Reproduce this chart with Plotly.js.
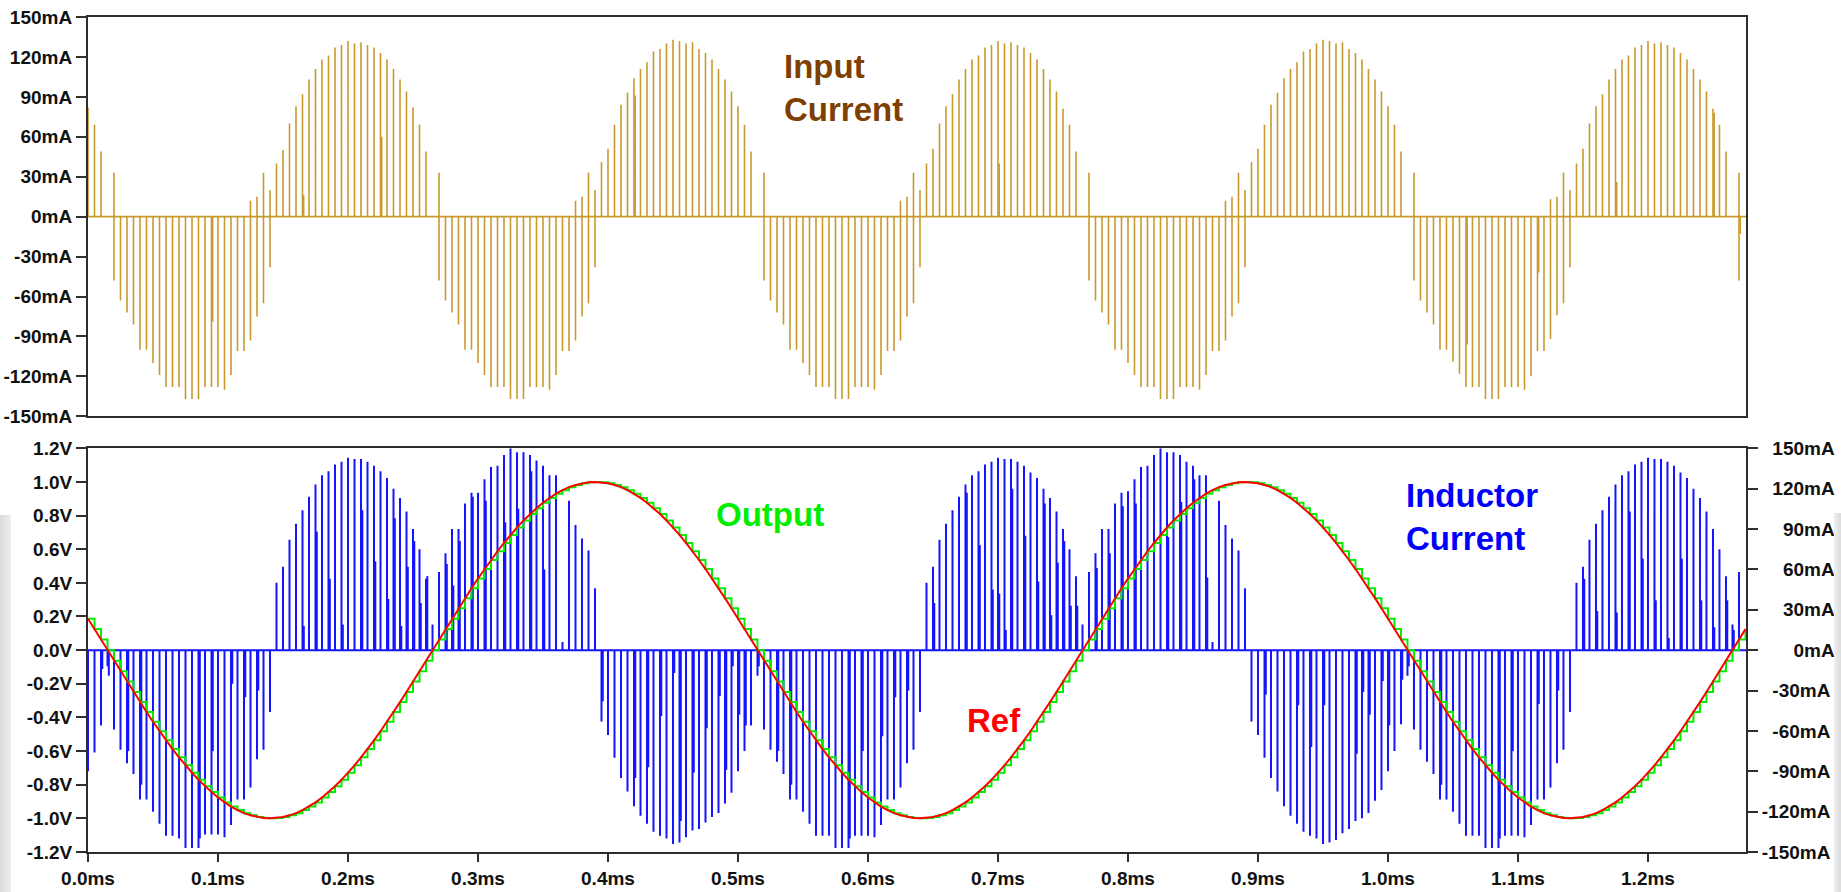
<!DOCTYPE html>
<html>
<head>
<meta charset="utf-8">
<script src="https://cdn.plot.ly/plotly-3.0.1.min.js"></script>
<style>
html,body{margin:0;padding:0;background:#fff;}
#chart{width:1841px;height:892px;}
.strip{position:absolute;pointer-events:none;}
</style>
</head>
<body>
<div id="chart"></div>
<div class="strip" style="left:0;top:515px;width:11px;height:377px;background:linear-gradient(to right,#dadada,#efefef);"></div>
<div class="strip" style="left:1834px;top:513px;width:7px;height:379px;background:linear-gradient(to right,#f0f0f0,#dcdcdc);"></div>
<script>
// ---------- axis ticks ----------
const timeTicks = [0, 0.1, 0.2, 0.3, 0.4, 0.5, 0.6, 0.7, 0.8, 0.9, 1.0, 1.1, 1.2];
const timeTickLabels = ['0.0ms','0.1ms','0.2ms','0.3ms','0.4ms','0.5ms','0.6ms','0.7ms','0.8ms','0.9ms','1.0ms','1.1ms','1.2ms'];
const currentTicks = [150, 120, 90, 60, 30, 0, -30, -60, -90, -120, -150];
const currentTickLabels = ['150mA','120mA','90mA','60mA','30mA','0mA','-30mA','-60mA','-90mA','-120mA','-150mA'];
const voltTicks = [1.2, 1.0, 0.8, 0.6, 0.4, 0.2, 0, -0.2, -0.4, -0.6, -0.8, -1.0, -1.2];
const voltTickLabels = ['1.2V','1.0V','0.8V','0.6V','0.4V','0.2V','0.0V','-0.2V','-0.4V','-0.6V','-0.8V','-1.0V','-1.2V'];
const timeEndMs = 1.2754;

// switching period / sample interval (ms)
const sampleStepMs = 0.005;

// ---------- Ref voltage (V), one sample per switching period ----------
const refV = [
0.187,0.125,0.063,0.000,
-0.063,-0.125,-0.187,-0.249,-0.309,-0.368,-0.426,-0.482,-0.536,-0.588,-0.637,-0.685,-0.729,-0.771,-0.809,-0.844,-0.876,-0.905,-0.930,-0.951,-0.969,-0.982,-0.992,-0.998,-1.000,
-0.998,-0.992,-0.982,-0.969,-0.951,-0.930,-0.905,-0.876,-0.844,-0.809,-0.771,-0.729,-0.685,-0.637,-0.588,-0.536,-0.482,-0.426,-0.368,-0.309,-0.249,-0.187,-0.125,-0.063,0.000,
0.063,0.125,0.187,0.249,0.309,0.368,0.426,0.482,0.536,0.588,0.637,0.685,0.729,0.771,0.809,0.844,0.876,0.905,0.930,0.951,0.969,0.982,0.992,0.998,1.000,
0.998,0.992,0.982,0.969,0.951,0.930,0.905,0.876,0.844,0.809,0.771,0.729,0.685,0.637,0.588,0.536,0.482,0.426,0.368,0.309,0.249,0.187,0.125,0.063,0.000,
-0.063,-0.125,-0.187,-0.249,-0.309,-0.368,-0.426,-0.482,-0.536,-0.588,-0.637,-0.685,-0.729,-0.771,-0.809,-0.844,-0.876,-0.905,-0.930,-0.951,-0.969,-0.982,-0.992,-0.998,-1.000,
-0.998,-0.992,-0.982,-0.969,-0.951,-0.930,-0.905,-0.876,-0.844,-0.809,-0.771,-0.729,-0.685,-0.637,-0.588,-0.536,-0.482,-0.426,-0.368,-0.309,-0.249,-0.187,-0.125,-0.063,0.000,
0.063,0.125,0.187,0.249,0.309,0.368,0.426,0.482,0.536,0.588,0.637,0.685,0.729,0.771,0.809,0.844,0.876,0.905,0.930,0.951,0.969,0.982,0.992,0.998,1.000,
0.998,0.992,0.982,0.969,0.951,0.930,0.905,0.876,0.844,0.809,0.771,0.729,0.685,0.637,0.588,0.536,0.482,0.426,0.368,0.309,0.249,0.187,0.125,0.063,0.000,
-0.063,-0.125,-0.187,-0.249,-0.309,-0.368,-0.426,-0.482,-0.536,-0.588,-0.637,-0.685,-0.729,-0.771,-0.809,-0.844,-0.876,-0.905,-0.930,-0.951,-0.969,-0.982,-0.992,-0.998,-1.000,
-0.998,-0.992,-0.982,-0.969,-0.951,-0.930,-0.905,-0.876,-0.844,-0.809,-0.771,-0.729,-0.685,-0.637,-0.588,-0.536,-0.482,-0.426,-0.368,-0.309,-0.249,-0.187,-0.125,-0.063,0.000,
0.063,0.125
];
// Output is the sampled-and-held version of the same samples
const outputV = refV;

// ---------- Input current (mA), per switching period ----------
const inputPos = [
82,69,49,0,33,
0,0,0,0,0,0,0,0,0,0,0,0,0,0,0,0,0,0,0,0,
12,15,33,20,40,50,70,83,92,103,111,118,121,127,129,132,130,131,129,127,123,118,111,103,94,82,69,49,
0,33,
0,0,0,0,0,0,0,0,0,0,0,0,0,0,0,0,0,0,0,0,
12,15,33,20,41,51,69,84,93,104,111,116,124,126,130,133,132,130,131,126,123,118,111,103,94,83,69,49,
0,33,
0,0,0,0,0,0,0,0,0,0,0,0,0,0,0,0,0,0,0,0,
12,15,33,20,40,51,70,83,92,103,111,118,121,127,129,132,130,131,129,127,123,118,111,103,94,81,69,49,
0,33,
0,0,0,0,0,0,0,0,0,0,0,0,0,0,0,0,0,0,0,0,
12,15,33,20,41,51,69,84,93,104,111,116,124,126,130,133,132,130,131,126,123,118,111,103,94,83,69,49,
0,33,
0,0,0,0,0,0,0,0,0,0,0,0,0,0,0,0,0,0,0,0,
13,15,33,20,40,51,70,83,92,103,111,118,121,127,129,132,130,131,129,127,123,118,111,103,94,81,69,49,
0,33
];
const inputNeg = [
0,0,0,0,
-48,-63,-72,-81,-100,-100,-110,-119,-128,-128,-128,-137,-137,-137,-128,-128,-128,-130,-119,-101,-101,-93,-75,-65,-38,
0,0,0,0,0,0,0,0,0,0,0,0,0,0,0,0,0,0,0,0,0,0,0,0,0,
-48,-63,-72,-81,-100,-100,-110,-119,-128,-128,-128,-137,-137,-137,-128,-128,-128,-130,-119,-101,-101,-93,-75,-65,-38,
0,0,0,0,0,0,0,0,0,0,0,0,0,0,0,0,0,0,0,0,0,0,0,0,0,
-48,-63,-72,-81,-100,-100,-110,-119,-128,-128,-128,-137,-137,-137,-128,-128,-128,-130,-119,-101,-101,-93,-75,-65,-38,
0,0,0,0,0,0,0,0,0,0,0,0,0,0,0,0,0,0,0,0,0,0,0,0,0,
-48,-63,-72,-81,-100,-100,-110,-119,-128,-128,-128,-137,-137,-137,-128,-128,-128,-130,-119,-101,-101,-93,-75,-65,-38,
0,0,0,0,0,0,0,0,0,0,0,0,0,0,0,0,0,0,0,0,0,0,0,0,0,
-48,-63,-72,-81,-100,-100,-109,-118,-128,-128,-128,-137,-137,-137,-128,-128,-128,-130,-120,-101,-101,-92,-74,-65,-38,
0,0,0,0,0,0,0,0,0,0,0,0,0,0,0,0,0,0,0,0,0,0,0,0,0,
-48
];
const inputInnerIdx = [19, 33, 45, 84, 140, 212, 223, 235, 250, 254];
const inputInnerVal = [-79, 16, 60, 91, 40, -96, -42, 26, 78, -13];

// ---------- Inductor current (mA), per switching period ----------
const inductorMain = [
-90,-76,-56,-12,-59,-74,-84,-92,-111,-111,-120,-129,-138,-138,-140,-147,-147,-147,-137,-137,-137,-139,-130,-111,-111,-102,-81,-74,-46,
50,62,82,94,104,114,123,130,133,138,140,143,142,142,140,137,133,128,120,113,103,90,75,53,19,
58,72,90,90,109,117,117,127,136,137,145,150,147,147,145,141,137,130,130,6,111,93,83,74,46,
-53,-63,-80,-95,-105,-116,-123,-129,-135,-138,-140,-144,-143,-139,-134,-133,-128,-124,-121,-114,-106,-90,-75,-56,-19,
-59,-74,-83,-92,-111,-111,-120,-129,-138,-138,-138,-147,-147,-147,-138,-138,-138,-139,-130,-111,-111,-102,-84,-74,-46,
50,62,82,94,104,114,123,130,133,138,140,143,142,142,140,137,132,128,120,113,103,90,75,55,19,
58,72,90,90,109,117,118,127,136,137,145,150,147,147,145,140,137,130,130,6,111,93,83,74,46,
-53,-63,-80,-95,-105,-116,-123,-129,-135,-138,-140,-144,-143,-141,-136,-133,-127,-125,-121,-112,-104,-90,-75,-55,-19,
-59,-74,-83,-92,-111,-111,-120,-129,-138,-138,-138,-147,-147,-147,-138,-138,-138,-139,-130,-111,-111,-102,-84,-74,-46,
50,62,82,94,104,114,123,130,133,138,140,143,142,142,140,137,132,128,120,113,103,90,75,55,19,
58
];
const inductorInnerIdx = [2,3,6,8,17,19,22,24,26,
33,35,37,39,42,44,46,47,48,49,50,51,52,
55,56,57,59,61,64,66,68,70,
79,84,86,88,90,91,93,95,97,98,99,100,101,103,
106,108,117,119,122,124,126,
130,135,137,139,140,141,142,144,146,147,148,149,150,151,152,
155,157,159,161,166,168,170,172,
181,186,188,190,195,196,197,199,200,202,203,
208,217,219,223,226,
230,232,235,237,239,241,243,245,248,250,252,253];
const inductorInnerVal = [-14,-19,-75,-100,-140,-75,-25,-35,-30,
18,88,53,19,104,66,38,98,18,62,81,35,55,
64,48,81,114,111,95,105,133,60,
-38,-95,-87,-49,-17,-127,-91,-58,-34,-89,-12,-48,-56,-12,
-75,-100,-140,-75,-64,-35,-30,
35,117,78,45,42,15,120,85,51,109,26,65,81,33,33,
61,72,107,109,84,110,127,54,
-33,-41,-72,-41,-77,-31,-48,-23,-56,-22,-12,
-100,-140,-75,-40,-30,
53,29,28,103,68,37,9,68,37,17,37,15];

// ---------- sanity checks ----------
function check(name, arr, n){ if (arr.length !== n) throw new Error(name + ' length ' + arr.length + ' expected ' + n); }
check('refV', refV, 256);
check('inputPos', inputPos, 255);
check('inputNeg', inputNeg, 255);
check('inductorMain', inductorMain, 255);
check('inputInnerVal', inputInnerVal, inputInnerIdx.length);
check('inductorInnerVal', inductorInnerVal, inductorInnerIdx.length);

// ---------- builders ----------
function pulsePath(mainArr, secondArr) {
  const x = [], y = [];
  for (let i = 0; i < mainArr.length; i++) {
    const t = i * sampleStepMs;
    x.push(t); y.push(0);
    if (mainArr[i]) { x.push(t, t); y.push(mainArr[i], 0); }
    if (secondArr && secondArr[i]) { x.push(t, t); y.push(secondArr[i], 0); }
  }
  x.push(timeEndMs); y.push(0);
  return {x, y};
}
function innerPath(idx, val, offset) {
  const x = [], y = [];
  idx.forEach((i, j) => { const t = i * sampleStepMs + offset; x.push(t, t, null); y.push(0, val[j], null); });
  return {x, y};
}
const sampleTimes = refV.map((_, k) => k * sampleStepMs);

const GOLD = '#c89a2c';
const BLUE = '#1414ff';
const inP = pulsePath(inputPos, inputNeg);
const inI = innerPath(inputInnerIdx, inputInnerVal, 0.0009);
const ilP = pulsePath(inductorMain, null);
const ilI = innerPath(inductorInnerIdx, inductorInnerVal, 0.0010);

const traces = [
  {x: inP.x, y: inP.y, xaxis: 'x', yaxis: 'y', mode: 'lines', line: {color: GOLD, width: 1.6}, hoverinfo: 'skip'},
  {x: inI.x, y: inI.y, xaxis: 'x', yaxis: 'y', mode: 'lines', line: {color: GOLD, width: 1.6}, hoverinfo: 'skip'},
  {x: ilP.x, y: ilP.y, xaxis: 'x2', yaxis: 'y2', mode: 'lines', line: {color: BLUE, width: 2}, hoverinfo: 'skip'},
  {x: ilI.x, y: ilI.y, xaxis: 'x2', yaxis: 'y2', mode: 'lines', line: {color: BLUE, width: 2}, hoverinfo: 'skip'},
  {x: sampleTimes, y: outputV, xaxis: 'x2', yaxis: 'y3', mode: 'lines', line: {color: '#00ee00', width: 2, shape: 'hv'}, hoverinfo: 'skip'},
  {x: sampleTimes, y: refV, xaxis: 'x2', yaxis: 'y3', mode: 'lines', line: {color: '#ff0000', width: 2}, hoverinfo: 'skip'}
];

const FRAME = '#2e2e2e';
const tickFont = {family: 'Liberation Sans, Arial, sans-serif', size: 19, color: '#111111', weight: 'bold'};
const padLabel = s => '\u2007'.repeat(Math.max(0, 6 - s.length)) + s;

const layout = {
  width: 1841, height: 892,
  margin: {l: 88, r: 95, t: 17, b: 40, pad: 0},
  paper_bgcolor: 'rgba(0,0,0,0)', plot_bgcolor: '#ffffff',
  showlegend: false,
  font: tickFont,
  xaxis: {domain: [0, 1], range: [0, timeEndMs], anchor: 'y', showticklabels: false, ticks: '',
          showline: true, mirror: true, linecolor: FRAME, linewidth: 2, showgrid: false, zeroline: false},
  yaxis: {domain: [0.5218, 1], range: [-150, 150], anchor: 'x', tickvals: currentTicks, ticktext: currentTickLabels,
          ticks: 'outside', ticklen: 10, tickwidth: 2, tickcolor: FRAME, tickfont: tickFont,
          showline: true, mirror: true, linecolor: FRAME, linewidth: 2, showgrid: false, zeroline: false},
  xaxis2: {domain: [0, 1], range: [0, timeEndMs], anchor: 'y2', tickvals: timeTicks, ticktext: timeTickLabels,
           ticks: 'outside', ticklen: 8, tickwidth: 2, tickcolor: FRAME, tickfont: tickFont,
           showline: true, mirror: true, linecolor: FRAME, linewidth: 2, showgrid: false, zeroline: false},
  yaxis2: {domain: [0, 0.4835], range: [-150, 150], anchor: 'x2', side: 'right',
           tickvals: currentTicks, ticktext: currentTickLabels.map(padLabel),
           ticks: 'outside', ticklen: 10, tickwidth: 2, tickcolor: FRAME, tickfont: tickFont,
           showline: true, mirror: true, linecolor: FRAME, linewidth: 2, showgrid: false, zeroline: false},
  yaxis3: {overlaying: 'y2', anchor: 'x2', side: 'left', range: [-1.2, 1.2],
           tickvals: voltTicks, ticktext: voltTickLabels,
           ticks: 'outside', ticklen: 10, tickwidth: 2, tickcolor: FRAME, tickfont: tickFont,
           showline: true, linecolor: FRAME, linewidth: 2, showgrid: false, zeroline: false},
  annotations: [
    {text: 'Input<br>Current', xref: 'x', yref: 'y', x: 0.534, y: 97, xanchor: 'left', yanchor: 'middle', align: 'left',
     showarrow: false, font: {family: 'Liberation Sans, Arial, sans-serif', size: 33, color: '#7f3f00', weight: 'bold'}},
    {text: 'Output', xref: 'x2', yref: 'y3', x: 0.4812, y: 0.809, xanchor: 'left', yanchor: 'middle',
     showarrow: false, font: {family: 'Liberation Sans, Arial, sans-serif', size: 33, color: '#00ee00', weight: 'bold'}},
    {text: 'Ref', xref: 'x2', yref: 'y3', x: 0.6743, y: -0.416, xanchor: 'left', yanchor: 'middle',
     showarrow: false, font: {family: 'Liberation Sans, Arial, sans-serif', size: 33, color: '#ff0000', weight: 'bold'}},
    {text: 'Inductor<br>Current', xref: 'x2', yref: 'y3', x: 1.012, y: 0.791, xanchor: 'left', yanchor: 'middle', align: 'left',
     showarrow: false, font: {family: 'Liberation Sans, Arial, sans-serif', size: 33, color: '#0000ff', weight: 'bold'}}
  ]
};

Plotly.newPlot('chart', traces, layout, {staticPlot: true, displayModeBar: false});
</script>
</body>
</html>
